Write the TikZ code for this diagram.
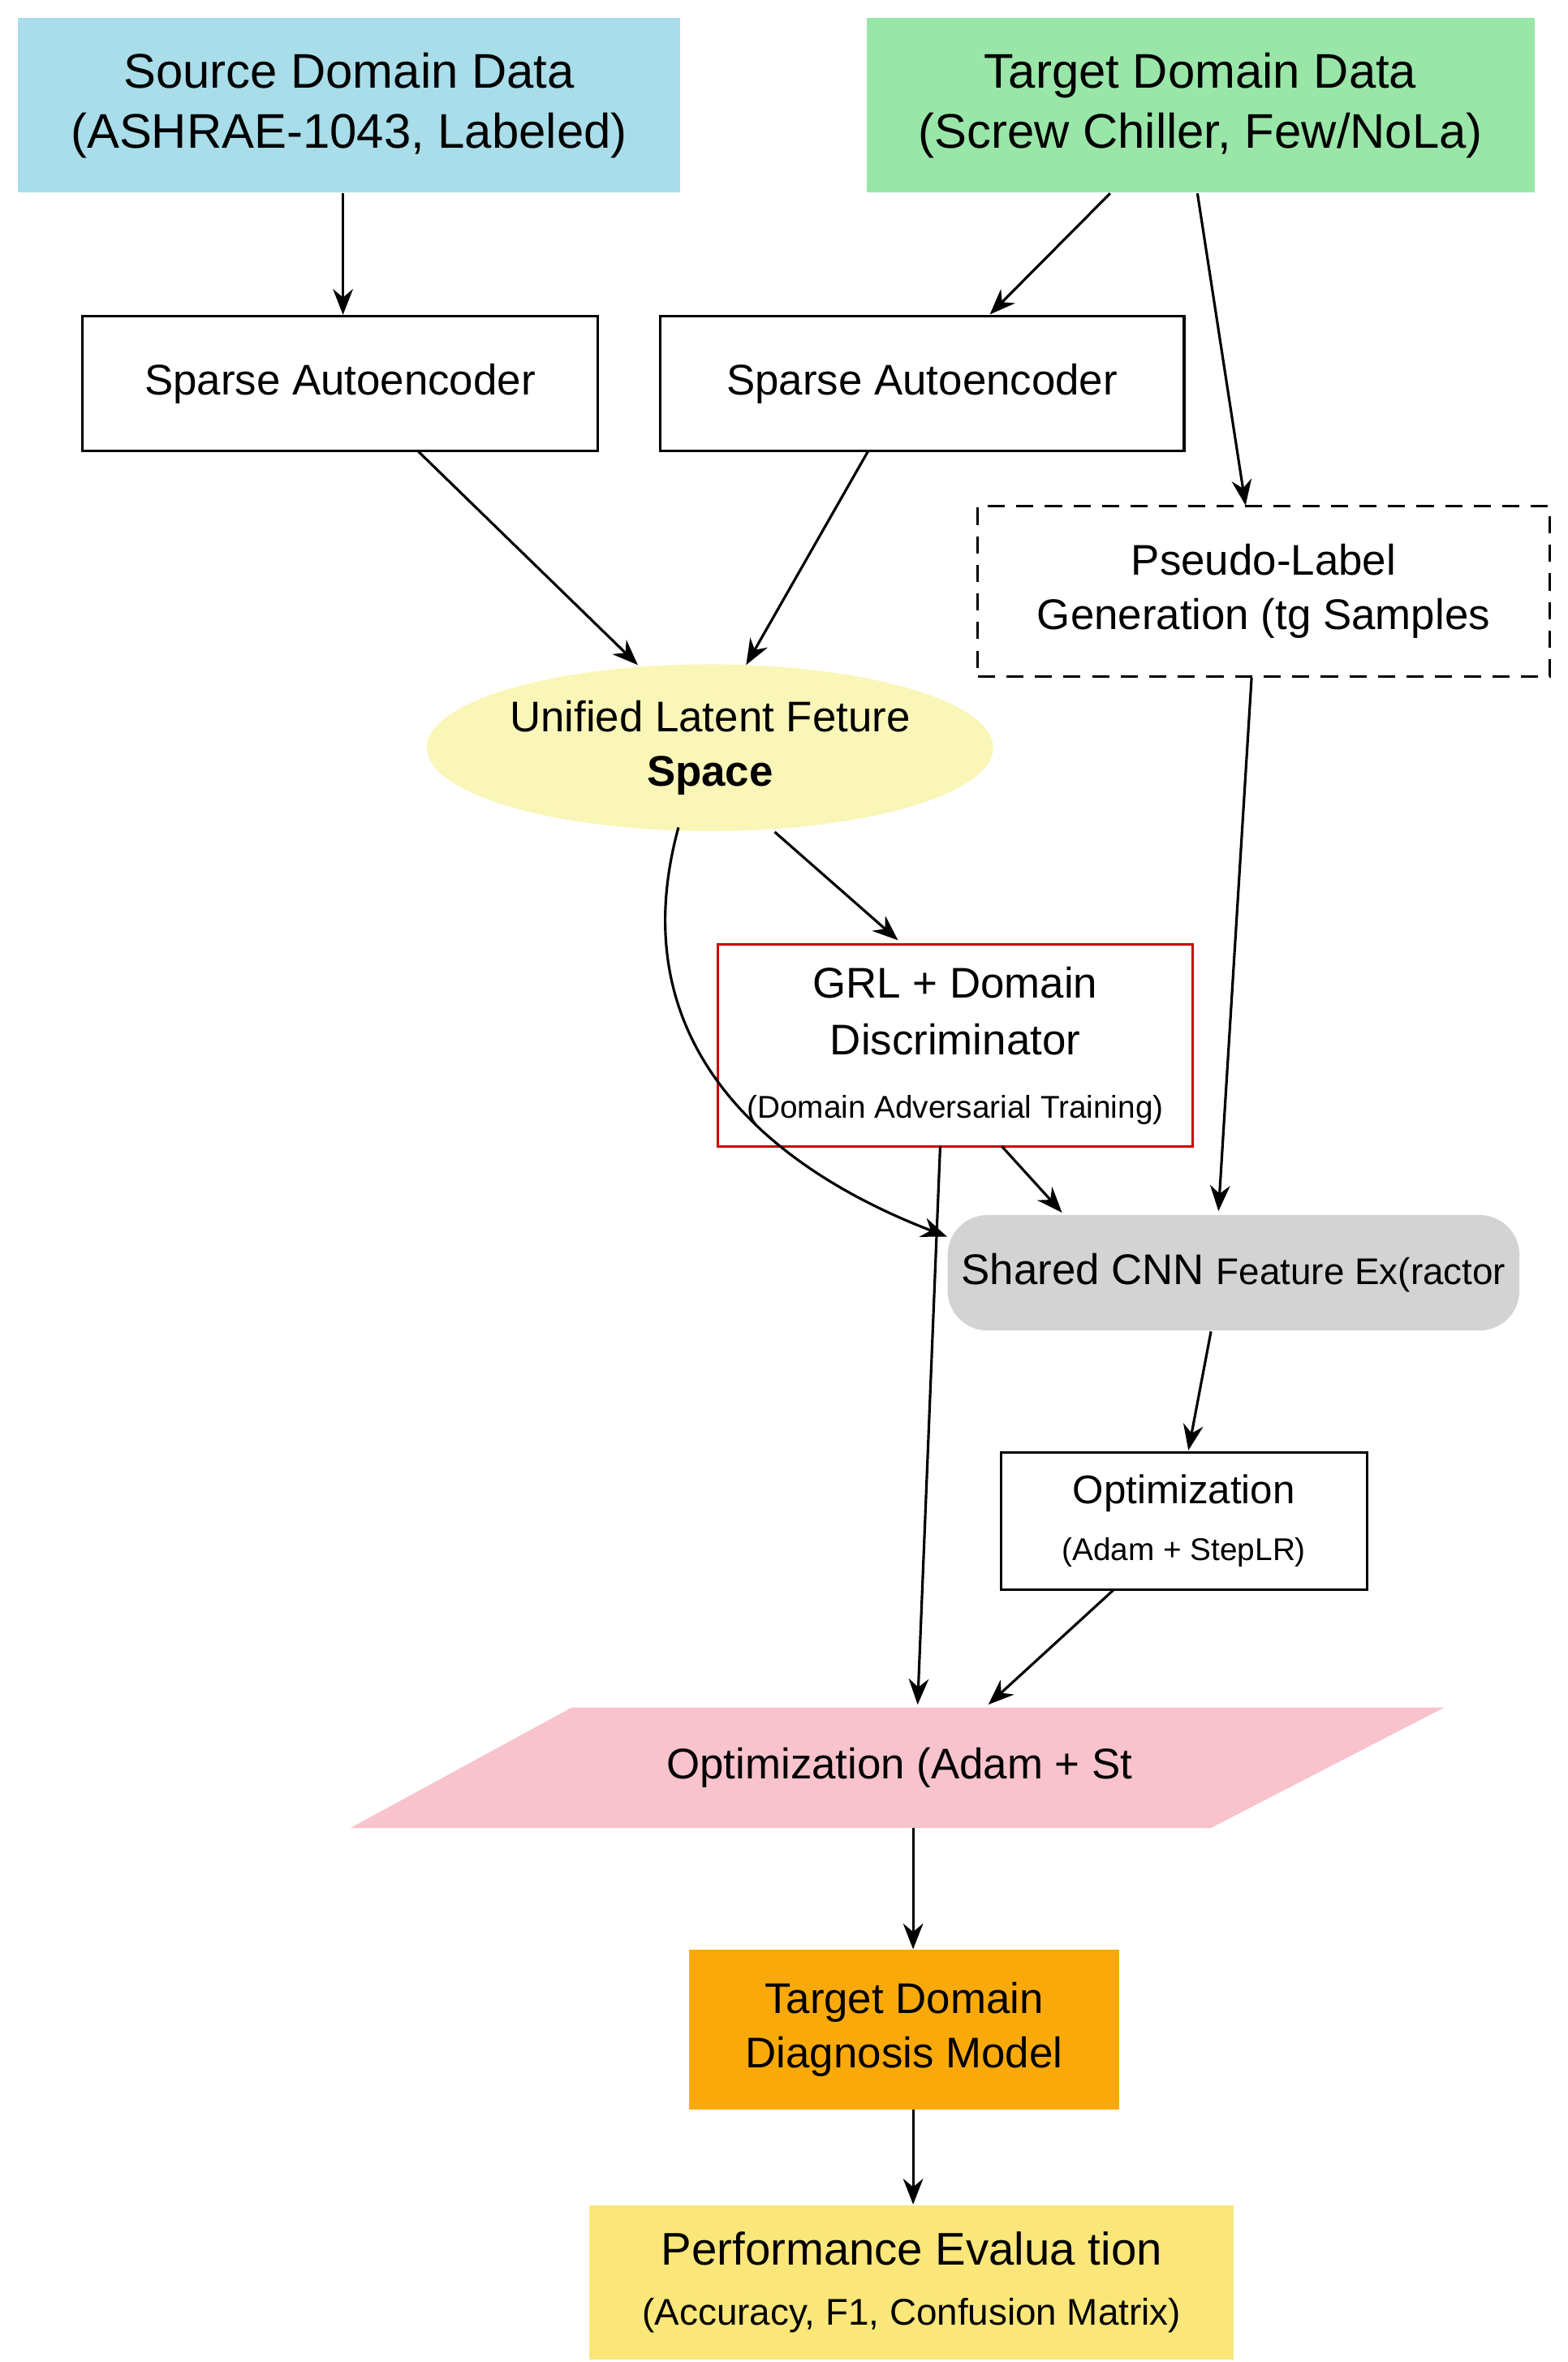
\documentclass[tikz,border=0pt]{standalone}
\usepackage{fontspec}
\setmainfont{Liberation Sans}
\usetikzlibrary{arrows.meta,shapes.geometric}
\definecolor{srcb}{HTML}{A8DDE9}
\definecolor{tgtg}{HTML}{99E6A8}
\definecolor{ellY}{HTML}{FAF6B8}
\definecolor{cnnG}{HTML}{D3D3D3}
\definecolor{pinkP}{HTML}{F8C3CC}
\definecolor{orgO}{HTML}{F9AA0A}
\definecolor{yelY}{HTML}{FBE67A}
\begin{document}
\begin{tikzpicture}[x=0.0185cm,y=-0.0185cm,
  arr/.style={-{Stealth[length=9pt,width=7pt]},line width=0.9pt},
  box/.style={draw=black,line width=0.9pt,align=center,inner sep=0pt},
  big/.style={font=\fontsize{17}{21}\selectfont},
  mid/.style={font=\fontsize{15}{19}\selectfont}]
\useasboundingbox (0,0) rectangle (1042,1570);
\fill[white] (0,0) rectangle (1042,1570);
\node[fill=srcb,align=center,big,inner sep=0pt,minimum width=8.14cm,minimum height=2.15cm] (src) at (232,70) {Source Domain Data\\(ASHRAE-1043, Labeled)};
\node[fill=tgtg,align=center,big,inner sep=0pt,minimum width=8.21cm,minimum height=2.15cm] (tgt) at (798,70) {Target Domain Data\\(Screw Chiller, Few/NoLa)};
\node[box,mid,minimum width=6.33cm,minimum height=1.66cm] (sae1) at (226,255) {Sparse Autoencoder};
\node[box,mid,minimum width=6.44cm,minimum height=1.66cm] (sae2) at (613,255) {Sparse Autoencoder};
\node[box,dash pattern=on 6pt off 4pt,mid,minimum width=7.03cm,minimum height=2.09cm] (pl) at (840,393) {Pseudo-Label\\Generation (\textsc{tg} Samples};
\node[ellipse,fill=ellY,mid,align=center,minimum width=6.85cm,minimum height=2.05cm,inner sep=0pt] (ul) at (472,497) {Unified Latent Feture\\\textbf{Space}};
\node[box,draw=red!80!black,font=\fontsize{15}{20}\selectfont,minimum width=5.83cm,minimum height=2.48cm] (grl) at (635,695) {GRL + Domain\\Discriminator\\[2pt]{\fontsize{11}{13}\selectfont (Domain Adversarial Training)}};
\node[fill=cnnG,rounded corners=14pt,minimum width=7.03cm,minimum height=1.42cm,inner sep=0pt] (cnn) at (820,846) {{\fontsize{15}{19}\selectfont Shared CNN }{\fontsize{13}{19}\selectfont Feature Ex(ractor}};
\node[box,font=\fontsize{14}{19}\selectfont,minimum width=4.5cm,minimum height=1.68cm] (opt) at (787,1011) {Optimization\\[1pt]{\fontsize{11}{14}\selectfont (Adam + StepLR)}};
\fill[pinkP] (380,1135) -- (960,1135) -- (805,1215) -- (233,1215) -- cycle;
\node[mid,inner sep=2pt] (par) at (598,1175) {Optimization (Adam + St};
\coordinate (parT) at (610,1133);
\coordinate (parT2) at (657,1133);
\coordinate (parB) at (607,1215);
\node[fill=orgO,mid,align=center,minimum width=5.29cm,minimum height=1.96cm,inner sep=0pt] (diag) at (601,1349) {Target Domain\\Diagnosis Model};
\node[fill=yelY,align=center,font=\fontsize{16}{21}\selectfont,minimum width=7.92cm,minimum height=1.9cm,inner sep=0pt] (perf) at (606,1517) {Performance Evalua tion\\{\fontsize{13}{17}\selectfont (Accuracy, F1, Confusion Matrix)}};
\draw[arr] (src.south -| 228,0) -- (sae1.north -| 228,0);
\draw[arr] (tgt.south -| 738,0) -- (658,209);
\draw[arr] (tgt.south -| 796,0) -- (828,336);
\draw[arr] (278,300) -- (424,442);
\draw[arr] (577,300) -- (496,442);
\draw[arr] (pl.south -| 832,0) -- (810,805);
\draw[arr] (515,553) -- (597,625);
\draw[arr] (451,550) .. controls (410,700) and (520,780) .. (cnn.west |- 0,822);
\draw[arr] (666,762) -- (706,806);
\draw[arr] (625,762) -- (parT);
\draw[arr] (805,885) -- (790,964);
\draw[arr] (740,1057) -- (parT2);
\draw[arr] (parB) -- (diag.north -| parB);
\draw[arr] (diag.south -| parB) -- (perf.north -| parB);
\end{tikzpicture}
\end{document}
